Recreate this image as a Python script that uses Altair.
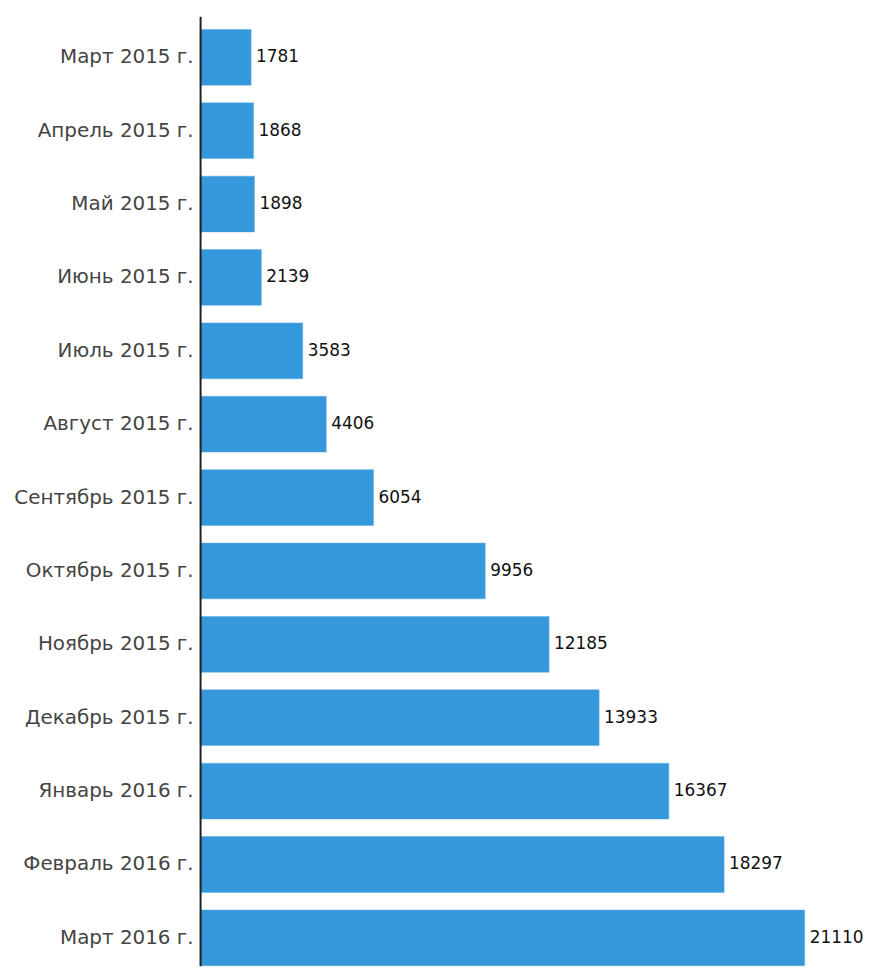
import altair as alt
import pandas as pd

months = ["Март 2015 г.", "Апрель 2015 г.", "Май 2015 г.", "Июнь 2015 г.",
          "Июль 2015 г.", "Август 2015 г.", "Сентябрь 2015 г.", "Октябрь 2015 г.",
          "Ноябрь 2015 г.", "Декабрь 2015 г.", "Январь 2016 г.", "Февраль 2016 г.",
          "Март 2016 г."]
values = [1781, 1868, 1898, 2139, 3583, 4406, 6054, 9956, 12185, 13933, 16367, 18297, 21110]

df = pd.DataFrame({"month": months, "value": values})

y = alt.Y("month:N", sort=months, title=None,
          scale=alt.Scale(paddingInner=0.24, paddingOuter=0.09, align=1),
          axis=alt.Axis(ticks=False, labelFont="DejaVu Sans", labelFontSize=20,
                        labelColor="#444444", labelPadding=7, domainColor="#222222",
                        domainWidth=2, grid=False, labelLimit=300, zindex=1))
x = alt.X("value:Q", title=None, scale=alt.Scale(domain=[0, 22000], nice=False),
          axis=None)

bars = alt.Chart(df).mark_bar(color="#3498db", stroke="#5dade2", strokeWidth=0.5).encode(x=x, y=y)
labels = alt.Chart(df).mark_text(align="left", baseline="middle", dx=5,
                                 font="DejaVu Sans", fontSize=17, color="#111111").encode(
    x="value:Q", y=alt.Y("month:N", sort=months), text="value:Q")

chart = (bars + labels).properties(
    width=633, height=954, background="white",
    padding={"left": 5, "top": 6, "right": 0, "bottom": 0},
).configure_view(stroke=None, strokeWidth=0)

chart.save("out.html", embed_options={"renderer": "svg", "actions": False})
